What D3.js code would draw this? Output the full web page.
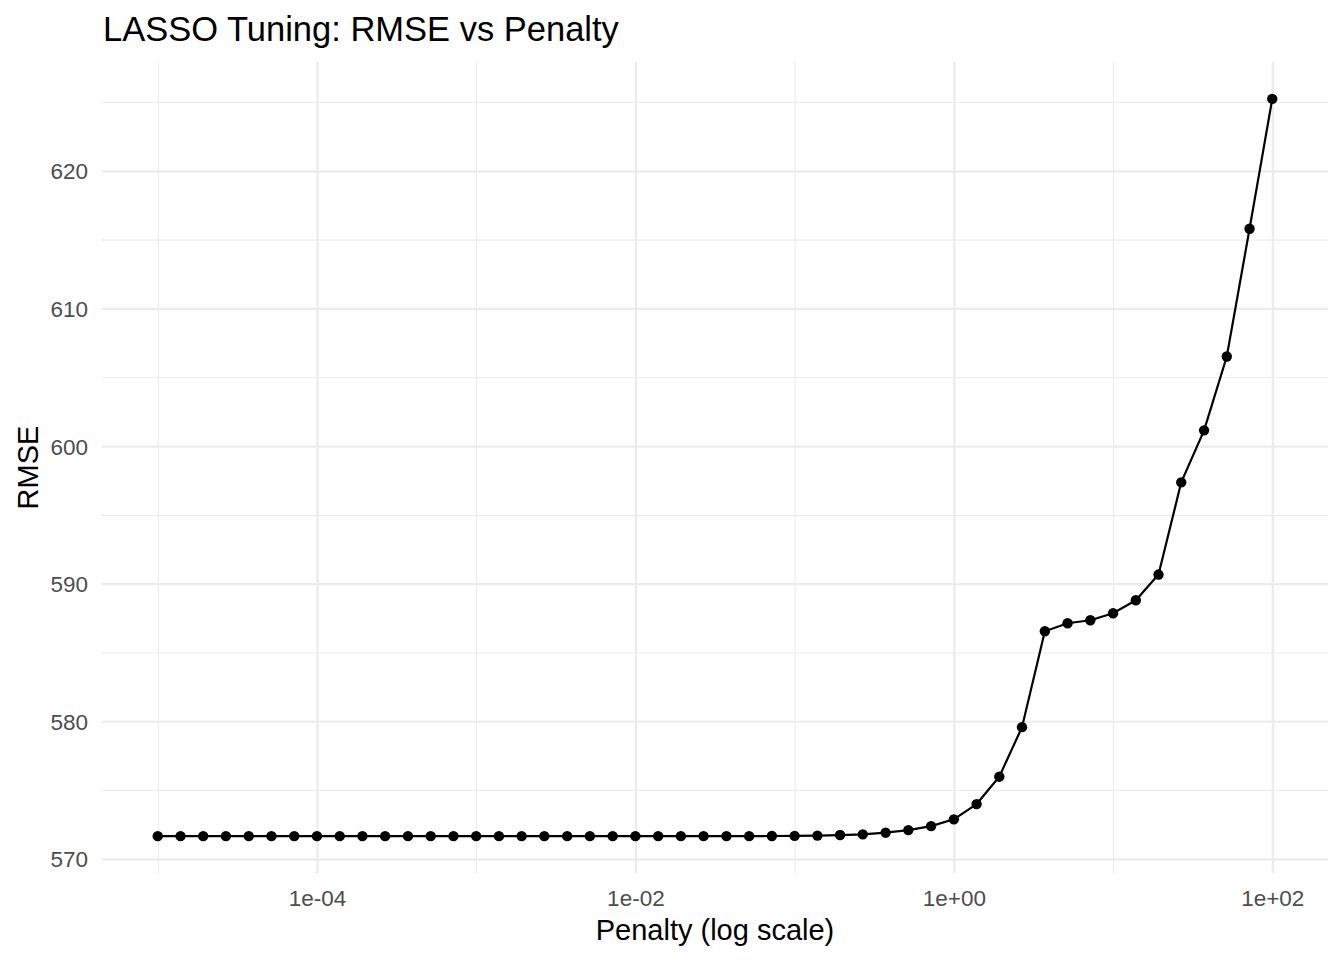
<!DOCTYPE html>
<html>
<head>
<meta charset="utf-8">
<script src="https://cdn.jsdelivr.net/npm/d3@7"></script>
<style>
    body { margin: 0; background: #fff; }
    text { font-family: "Liberation Sans", Arial, sans-serif; }
    .grid-major line { stroke: #ebebeb; stroke-width: 2.2; }
    .grid-minor line { stroke: #ebebeb; stroke-width: 1.1; }
    .axis text { fill: #4d4d4d; font-size: 22.5px; }
</style>
</head>
<body>
<script>
// penalty grid (log spaced) and the RMSE
var penalty = [
    1e-5, 1.39e-5, 1.93e-5, 2.68e-5, 3.73e-5, 5.18e-5, 7.2e-5,
    1e-4, 1.39e-4, 1.93e-4, 2.68e-4, 3.73e-4, 5.18e-4, 7.2e-4,
    1e-3, 1.39e-3, 1.93e-3, 2.68e-3, 3.73e-3, 5.18e-3, 7.2e-3,
    1e-2, 1.39e-2, 1.93e-2, 2.68e-2, 3.73e-2, 5.18e-2, 7.2e-2,
    1e-1, 1.39e-1, 1.93e-1, 2.68e-1, 3.73e-1, 5.18e-1, 7.2e-1,
    1, 1.39, 1.93, 2.68, 3.73, 5.18, 7.2,
    10, 13.9, 19.3, 26.8, 37.3, 51.8, 72,
    100
];
var rmse = [
    571.65, 571.65, 571.65, 571.65, 571.65, 571.65, 571.65,
    571.65, 571.65, 571.65, 571.65, 571.65, 571.65, 571.65,
    571.65, 571.65, 571.65, 571.65, 571.65, 571.65, 571.65,
    571.65, 571.65, 571.65, 571.65, 571.65, 571.65, 571.66,
    571.67, 571.69, 571.73, 571.78, 571.90, 572.09, 572.38,
    572.87, 573.98, 575.97, 579.57, 586.54, 587.12, 587.34,
    587.85, 588.79, 590.66, 597.36, 601.14, 606.51, 615.79,
    625.23
];
var xMajor = [1e-4, 1e-2, 1, 100];
var xMinor = [1e-5, 1e-3, 1e-1, 10];
var yMajor = [570, 580, 590, 600, 610, 620];
var yMinor = [575, 585, 595, 605, 615, 625];

var data = penalty.map((p, i) => ({ penalty: p, rmse: rmse[i] }));

var W = 1344, H = 960;
var margin = { top: 62, right: 16, bottom: 87, left: 102 };
var width = W - margin.left - margin.right,
    height = H - margin.top - margin.bottom;

// ggplot style 5% expansion on each side
var lx = [Math.log10(d3.min(penalty)), Math.log10(d3.max(penalty))];
var padX = (lx[1] - lx[0]) * 0.05;
var xScale = d3.scaleLog()
    .domain([Math.pow(10, lx[0] - padX), Math.pow(10, lx[1] + padX)])
    .range([0, width]);

var ext = d3.extent(rmse);
var padY = (ext[1] - ext[0]) * 0.05;
var yScale = d3.scaleLinear()
    .domain([ext[0] - padY, ext[1] + padY])
    .range([height, 0]);

var svg = d3.select("body").append("svg")
    .attr("width", W)
    .attr("height", H);

var g = svg.append("g")
    .attr("transform", "translate(" + margin.left + "," + margin.top + ")");

//minor grid
g.append("g").attr("class", "grid-minor")
    .call(d3.axisLeft(yScale).tickValues(yMinor).tickSize(-width).tickFormat(""))
    .call(s => s.select(".domain").remove());
g.append("g").attr("class", "grid-minor")
    .call(d3.axisTop(xScale).tickValues(xMinor).tickSize(-height).tickFormat(""))
    .call(s => s.select(".domain").remove());

//major grid
g.append("g").attr("class", "grid-major")
    .call(d3.axisLeft(yScale).tickValues(yMajor).tickSize(-width).tickFormat(""))
    .call(s => s.select(".domain").remove());
g.append("g").attr("class", "grid-major")
    .call(d3.axisTop(xScale).tickValues(xMajor).tickSize(-height).tickFormat(""))
    .call(s => s.select(".domain").remove());

//axes labels (no ticks, no domain)
var fmtX = d => d3.format(".0e")(d).replace(/e([+-])(\d)$/, "e$10$2");
g.append("g").attr("class", "axis")
    .attr("transform", "translate(0," + height + ")")
    .call(d3.axisBottom(xScale).tickValues(xMajor).tickFormat(fmtX).tickSize(0).tickPadding(17))
    .call(s => s.select(".domain").remove());
g.append("g").attr("class", "axis")
    .call(d3.axisLeft(yScale).tickValues(yMajor).tickSize(0).tickPadding(14))
    .call(s => s.select(".domain").remove())
    .selectAll("text").attr("dy", "0.36em");

//line + points
var line = d3.line()
    .x(d => xScale(d.penalty))
    .y(d => yScale(d.rmse));

g.append("path")
    .datum(data)
    .attr("fill", "none")
    .attr("stroke", "#000")
    .attr("stroke-width", 2.2)
    .attr("d", line);

g.selectAll(".pt")
    .data(data)
    .enter().append("circle")
    .attr("class", "pt")
    .attr("cx", d => xScale(d.penalty))
    .attr("cy", d => yScale(d.rmse))
    .attr("r", 5.2)
    .attr("fill", "#000");

//titles
svg.append("text")
    .attr("x", margin.left + 1)
    .attr("y", 41)
    .style("font-size", "34.5px")
    .text("LASSO Tuning: RMSE vs Penalty");

svg.append("text")
    .attr("x", margin.left + width / 2)
    .attr("y", 940)
    .attr("text-anchor", "middle")
    .style("font-size", "29px")
    .text("Penalty (log scale)");

svg.append("text")
    .attr("transform", "translate(38," + (margin.top + height / 2) + ") rotate(-90)")
    .attr("text-anchor", "middle")
    .style("font-size", "29px")
    .text("RMSE");
</script>
</body>
</html>
